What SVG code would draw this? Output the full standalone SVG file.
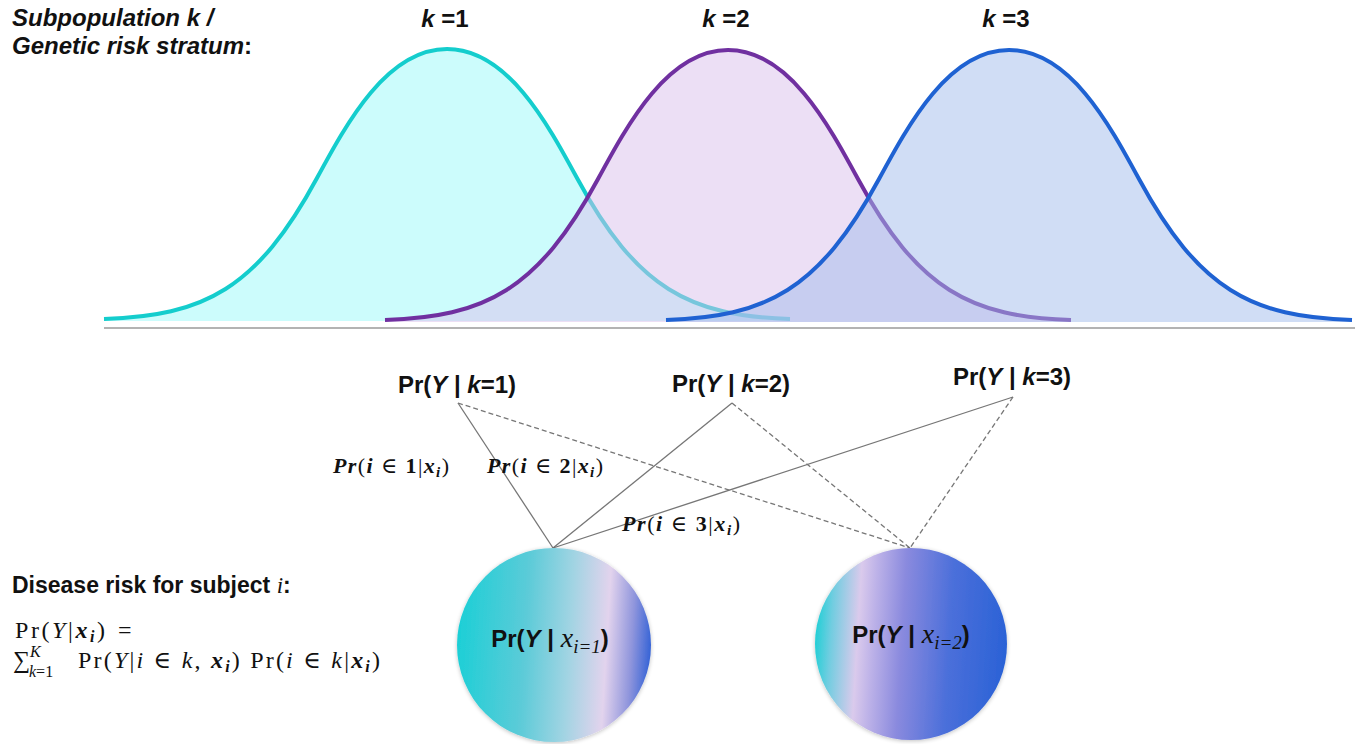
<svg xmlns="http://www.w3.org/2000/svg" width="1359" height="744" viewBox="0 0 1359 744">
<style>
.s{font-family:"Liberation Sans",Arial,sans-serif;font-weight:bold;fill:#111}
.m{font-family:"Liberation Serif","DejaVu Serif",serif;fill:#111}
.bi{font-style:italic;font-weight:bold}
.it{font-style:italic}
.c{stroke:#767676;stroke-width:1.3;fill:none}
.d{stroke-dasharray:5 3}
</style>
<defs>
<path id="bellLine" d="M-343,319 C-243,316 -190,289 -130,178 C-100,122.5 -60,49 0,49 C60,49 100,122.5 130,178 C190,289 243,316 343,319"/>
<path id="bellFill" d="M-343,319 C-243,316 -190,289 -130,178 C-100,122.5 -60,49 0,49 C60,49 100,122.5 130,178 C190,289 243,316 343,319 L343,321 L-343,321 Z"/>
<linearGradient id="g1" x1="0" y1="0.47" x2="1" y2="0.53">
<stop offset="0" stop-color="#1ccfd6"/>
<stop offset="0.35" stop-color="#5ccbd8"/>
<stop offset="0.58" stop-color="#a2d4e3"/>
<stop offset="0.77" stop-color="#e2d3ed"/>
<stop offset="0.9" stop-color="#8f95dc"/>
<stop offset="1" stop-color="#3563d6"/>
</linearGradient>
<linearGradient id="g2" x1="0" y1="0.47" x2="1" y2="0.53">
<stop offset="0" stop-color="#22cfd6"/>
<stop offset="0.08" stop-color="#70cde0"/>
<stop offset="0.22" stop-color="#dacaec"/>
<stop offset="0.3" stop-color="#bdb2e8"/>
<stop offset="0.45" stop-color="#8a8ade"/>
<stop offset="0.7" stop-color="#4b6fda"/>
<stop offset="1" stop-color="#2a62d6"/>
</linearGradient>
<filter id="sh" x="-10%" y="-10%" width="120%" height="120%">
<feGaussianBlur in="SourceAlpha" stdDeviation="2"/>
<feOffset dx="0" dy="1"/>
<feComponentTransfer><feFuncA type="linear" slope="0.25"/></feComponentTransfer>
<feMerge><feMergeNode/><feMergeNode in="SourceGraphic"/></feMerge>
</filter>
</defs>
<rect width="1359" height="744" fill="#fff"/>

<g id="title">
<text class="s bi" x="12" y="26" font-size="24">Subpopulation k /</text>
<text class="s" x="12" y="54" font-size="24"><tspan class="bi">Genetic risk stratum</tspan>:</text>
</g>

<g id="curve-k1">
<use href="#bellFill" transform="translate(447,0)" fill="#ccfcfc" stroke="none"/>
<use href="#bellLine" transform="translate(447,0)" fill="none" stroke="#14cdcd" stroke-width="4"/>
<text class="s" x="445" y="27" font-size="24" text-anchor="middle"><tspan class="bi">k</tspan> =1</text>
</g>
<g id="curve-k2">
<use href="#bellFill" transform="translate(728,1)" fill="#d9bfeb" fill-opacity="0.5" stroke="none"/>
<use href="#bellLine" transform="translate(728,1)" fill="none" stroke="#7030a0" stroke-width="4"/>
<text class="s" x="726" y="27" font-size="24" text-anchor="middle"><tspan class="bi">k</tspan> =2</text>
</g>
<g id="curve-k3">
<use href="#bellFill" transform="translate(1009,1)" fill="#a1bbeb" fill-opacity="0.5" stroke="none"/>
<use href="#bellLine" transform="translate(1009,1)" fill="none" stroke="#1f62d2" stroke-width="4"/>
<text class="s" x="1006" y="27" font-size="24" text-anchor="middle"><tspan class="bi">k</tspan> =3</text>
</g>
<line id="axis" x1="104" y1="328" x2="1355" y2="328" stroke="#b3b3b3" stroke-width="2"/>

<g id="connectors">
<line class="c" x1="458" y1="403" x2="553" y2="548"/>
<line class="c" x1="732" y1="403" x2="553" y2="548"/>
<line class="c" x1="1013" y1="397" x2="553" y2="548"/>
<line class="c d" x1="458" y1="403" x2="910" y2="548"/>
<line class="c d" x1="732" y1="403" x2="910" y2="548"/>
<line class="c d" x1="1013" y1="397" x2="910" y2="548"/>
</g>

<g id="pr-k1"><text class="s" x="457" y="393" font-size="24" text-anchor="middle">Pr(<tspan class="bi">Y</tspan> | <tspan class="bi">k</tspan>=1)</text></g>
<g id="pr-k2"><text class="s" x="731" y="392" font-size="24" text-anchor="middle">Pr(<tspan class="bi">Y</tspan> | <tspan class="bi">k</tspan>=2)</text></g>
<g id="pr-k3"><text class="s" x="1012" y="385" font-size="24" text-anchor="middle">Pr(<tspan class="bi">Y</tspan> | <tspan class="bi">k</tspan>=3)</text></g>

<g id="lab1"><text class="m" x="333" y="473" font-size="22" textLength="116" lengthAdjust="spacing"><tspan class="bi">Pr</tspan>(<tspan class="bi">i</tspan> ∈ <tspan font-weight="bold">1</tspan>|<tspan class="bi">x</tspan><tspan class="bi" font-size="15" dy="4">i</tspan><tspan dy="-4">)</tspan></text></g>
<g id="lab2"><text class="m" x="487" y="473" font-size="22" textLength="116" lengthAdjust="spacing"><tspan class="bi">Pr</tspan>(<tspan class="bi">i</tspan> ∈ <tspan font-weight="bold">2</tspan>|<tspan class="bi">x</tspan><tspan class="bi" font-size="15" dy="4">i</tspan><tspan dy="-4">)</tspan></text></g>
<g id="lab3"><text class="m" x="622" y="531" font-size="22" textLength="118" lengthAdjust="spacing"><tspan class="bi">Pr</tspan>(<tspan class="bi">i</tspan> ∈ <tspan font-weight="bold">3</tspan>|<tspan class="bi">x</tspan><tspan class="bi" font-size="15" dy="4">i</tspan><tspan dy="-4">)</tspan></text></g>

<g id="disease-risk">
<text class="s" x="12" y="593" font-size="23">Disease risk for subject <tspan class="m it" font-weight="normal">i</tspan>:</text>
<text class="m" x="15" y="638" font-size="24" textLength="90" lengthAdjust="spacing">Pr(<tspan class="it">Y</tspan>|<tspan class="bi">x</tspan><tspan class="bi" font-size="16" dy="4">i</tspan><tspan dy="-4">)</tspan></text>
<text class="m" x="118" y="638" font-size="24">=</text>
<text class="m" x="13" y="668" font-size="24">∑</text>
<text class="m it" x="30" y="657" font-size="16">K</text>
<text class="m" x="29" y="677" font-size="16"><tspan class="it">k</tspan>=1</text>
<text class="m" x="78" y="668" font-size="24" textLength="302" lengthAdjust="spacing">Pr(<tspan class="it">Y</tspan>|<tspan class="it">i</tspan> ∈ <tspan class="it">k</tspan>, <tspan class="bi">x</tspan><tspan class="bi" font-size="16" dy="4">i</tspan><tspan dy="-4">) Pr(</tspan><tspan class="it">i</tspan> ∈ <tspan class="it">k</tspan>|<tspan class="bi">x</tspan><tspan class="bi" font-size="16" dy="4">i</tspan><tspan dy="-4">)</tspan></text>
</g>

<g id="subject1">
<circle cx="554" cy="645" r="97" fill="url(#g1)" filter="url(#sh)"/>
<text class="s" x="550" y="647" font-size="24" text-anchor="middle">Pr(<tspan class="bi">Y</tspan> | <tspan class="m it" font-weight="normal" font-size="28">x</tspan><tspan class="m it" font-weight="normal" font-size="19" dy="6">i=1</tspan><tspan dy="-6">)</tspan></text>
</g>
<g id="subject2">
<circle cx="911" cy="644" r="96" fill="url(#g2)" filter="url(#sh)"/>
<text class="s" x="911" y="643" font-size="24" text-anchor="middle">Pr(<tspan class="bi">Y</tspan> | <tspan class="m it" font-weight="normal" font-size="28">x</tspan><tspan class="m it" font-weight="normal" font-size="19" dy="6">i=2</tspan><tspan dy="-6">)</tspan></text>
</g>
</svg>
